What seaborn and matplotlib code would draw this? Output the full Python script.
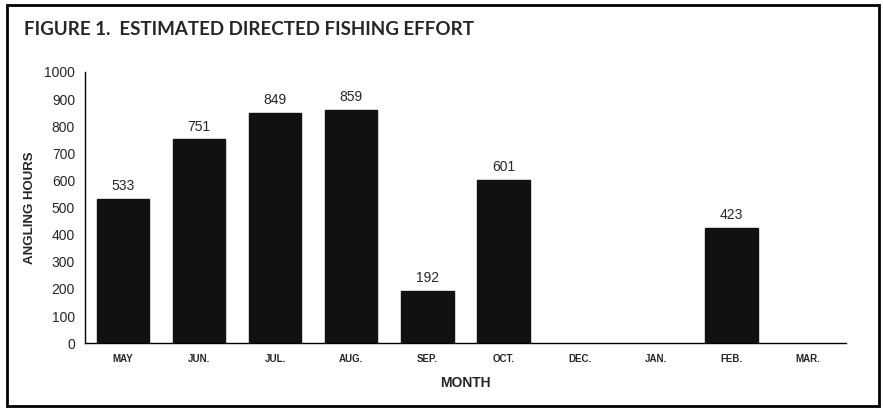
import numpy as np
import pandas as pd
import seaborn as sns
import matplotlib.pyplot as plt
from matplotlib.patches import Rectangle

months = ["MAY", "JUN.", "JUL.", "AUG.", "SEP.", "OCT.", "DEC.", "JAN.", "FEB.", "MAR."]
hours = [533, 751, 849, 859, 192, 601, np.nan, np.nan, 423, np.nan]

df = pd.DataFrame({"month": months, "hours": hours})

sns.set_style("white")
plt.rcParams["font.family"] = ["Liberation Sans", "DejaVu Sans"]

fig = plt.figure(figsize=(8.83, 4.11), dpi=100)
ax = fig.add_axes([0.096, 0.165, 0.862, 0.66])

sns.barplot(data=df, x="month", y="hours", order=months, color="#111111",
            width=0.69, saturation=1, edgecolor="#111111", ax=ax)

# value labels over the bars
for i, v in enumerate(hours):
    if not np.isnan(v):
        ax.text(i, v + 22, f"{int(v)}", ha="center", va="bottom", fontsize=10)

ax.set_ylim(0, 1000)
ax.set_yticks(range(0, 1001, 100))
ax.set_xlim(-0.5, len(months) - 0.5)
ax.set_xticks(range(len(months)))
ax.set_xticks(np.arange(-0.5, len(months), 1), minor=True)
ax.tick_params(axis="x", which="major", length=0, pad=8)
ax.tick_params(axis="x", which="minor", direction="in", length=4, width=1, color="black")
ax.tick_params(axis="y", direction="out", length=4, width=1, color="black", labelsize=10, pad=3)
for lab in ax.get_xticklabels():
    lab.set_fontsize(7)
    lab.set_fontweight("bold")

for s in ["top", "right"]:
    ax.spines[s].set_visible(False)
for s in ["left", "bottom"]:
    ax.spines[s].set_color("black")
    ax.spines[s].set_linewidth(1)

ax.set_xlabel("")
ax.set_ylabel("")
fig.text(0.034, 0.495, "ANGLING HOURS", rotation=90, ha="center", va="center",
         fontsize=9.5, fontweight="bold")
fig.text(0.527, 0.068, "MONTH", ha="center", va="center", fontsize=10, fontweight="bold")
fig.text(0.027, 0.928, "FIGURE 1.  ESTIMATED DIRECTED FISHING EFFORT", ha="left", va="center",
         fontsize=13.5, fontweight="bold", family=["Lato", "DejaVu Sans"])

fig.patches.append(Rectangle((0.008, 0.012), 0.987, 0.975, transform=fig.transFigure,
                             fill=False, edgecolor="black", linewidth=2))

fig.savefig("out.png", dpi=100)
